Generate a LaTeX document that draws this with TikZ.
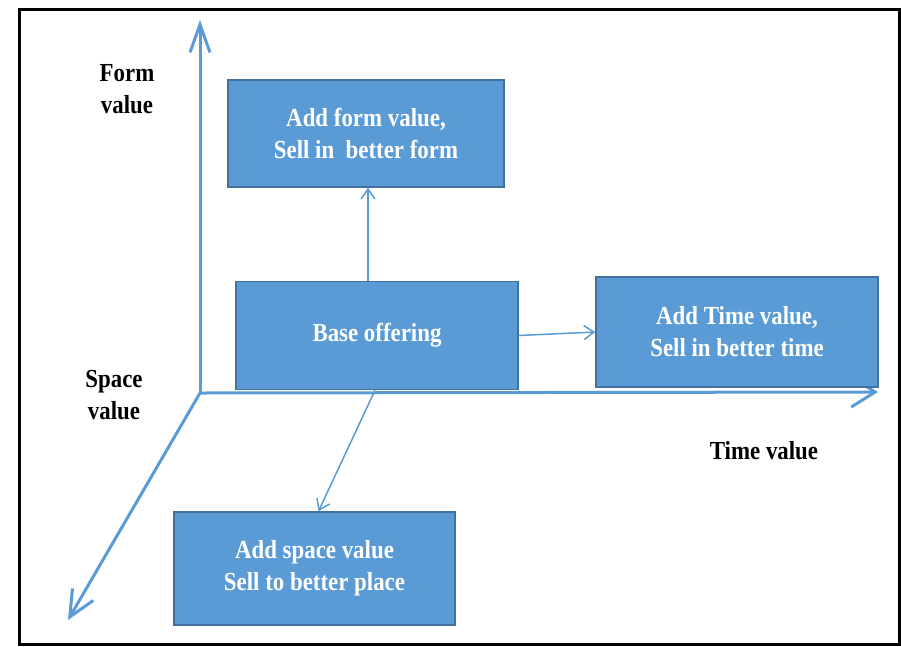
\documentclass[tikz,border=0pt]{standalone}
\usepackage{fontspec}
\setmainfont[FakeStretch=0.88]{Liberation Serif}
\usetikzlibrary{arrows.meta}
\definecolor{boxblue}{HTML}{5B9BD5}
\definecolor{boxedge}{HTML}{41719C}
\definecolor{axisblue}{HTML}{5B9BD5}
\begin{document}
\begin{tikzpicture}[x=1pt,y=-1pt,
  box/.style={draw=boxedge, line width=1.5pt, fill=boxblue, text=white,
    font=\fontsize{26}{32}\selectfont\bfseries, align=center, inner sep=0pt},
  lbl/.style={font=\fontsize{26}{32}\selectfont\bfseries, align=center, text=black, inner sep=0pt},
  axisarrow/.style={draw=axisblue, line width=3pt, -{Straight Barb[length=28pt,width=20pt]}},
  conn/.style={draw=axisblue, line width=1.5pt, -{Straight Barb[length=10pt,width=14pt]}}]
\useasboundingbox (0,0) rectangle (901,646);
\draw[line width=3pt] (19,9) rectangle (899,644);
% axes
\coordinate (O) at (200,393);
\coordinate (top) at (200,20);
\coordinate (right) at (878,392);
\coordinate (diag) at (68,620);
\draw[axisarrow] (O) -- (top);
\draw[axisarrow, -{Straight Barb[length=24pt,width=30pt]}] (O) -- (right);
\draw[axisarrow, -{Straight Barb[length=26pt,width=24pt]}] (O) -- (diag);
% boxes
\node[box, minimum width=276pt, minimum height=107pt] (form) at (366,133.5) {Add form value,\\Sell in\ \ better form};
\node[box, minimum width=282pt, minimum height=108pt] (base) at (377,335.5) {Base offering};
\node[box, minimum width=282pt, minimum height=110pt] (time) at (737,332) {Add Time value,\\Sell in better time};
\node[box, minimum width=281pt, minimum height=113pt] (space) at (314.5,568.5) {Add space value\\Sell to better place};
% labels
\node[lbl] (formlbl) at (127,89) {Form\\value};
\node[lbl] (spacelbl) at (114,395) {Space\\value};
\node[lbl] (timelbl) at (764,451) {Time value};
% connectors
\draw[conn] ([xshift=-9pt]base.north) -- ([xshift=-9pt]base.north |- form.south);
\draw[conn] (base.east) -- (time.west);
\draw[conn] ([xshift=-2pt]base.south) -- ([xshift=4pt]space.north);
\end{tikzpicture}
\end{document}
